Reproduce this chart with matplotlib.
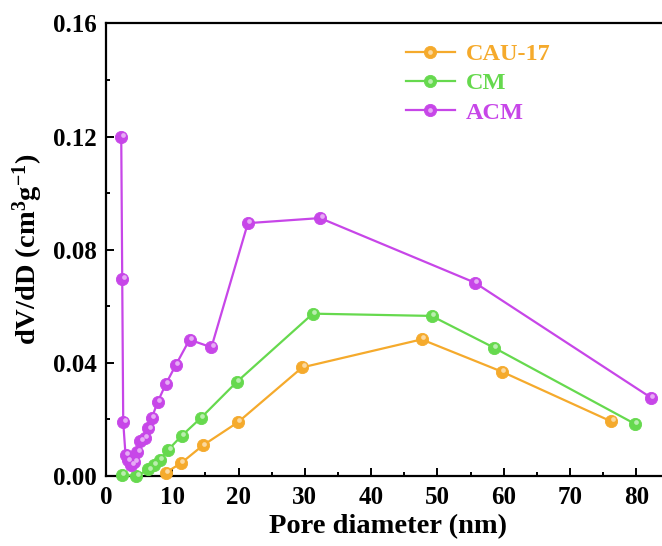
import matplotlib
matplotlib.use("Agg")
import matplotlib.pyplot as plt
import matplotlib.transforms as mtransforms
from matplotlib.ticker import MultipleLocator, FormatStrFormatter
from matplotlib.legend_handler import HandlerTuple
from matplotlib.colors import to_rgb

# Pore size distribution data (pore diameter in nm, dV/dD in cm^3 g^-1)
cau17_d = [9.0, 11.3, 14.6, 19.9, 29.6, 47.6, 59.7, 76.2]
cau17_v = [0.0012, 0.0045, 0.0108, 0.0190, 0.0384, 0.0483, 0.0369, 0.0193]

cm_d = [2.4, 4.6, 6.4, 7.2, 8.1, 9.4, 11.4, 14.3, 19.7, 31.2, 49.1, 58.5, 79.8]
cm_v = [0.0004, 0.0000, 0.0023, 0.0038, 0.0058, 0.0093, 0.0142, 0.0205,
        0.0332, 0.0574, 0.0566, 0.0454, 0.0184]

acm_d = [2.3, 2.45, 2.6, 2.95, 3.3, 3.8, 4.3, 4.7, 5.2, 5.9, 6.4, 6.9, 7.8,
         9.0, 10.5, 12.6, 15.9, 21.4, 32.3, 55.6, 82.2]
acm_v = [0.1200, 0.0695, 0.0190, 0.0074, 0.0055, 0.0040, 0.0050, 0.0086,
         0.0125, 0.0135, 0.0168, 0.0205, 0.0262, 0.0324, 0.0391, 0.0482,
         0.0455, 0.0894, 0.0912, 0.0684, 0.0277]

labels = ["CAU-17", "CM", "ACM"]
colors = ["#F5AA2C", "#66D94E", "#C746E8"]

x_ticks = [0, 10, 20, 30, 40, 50, 60, 70, 80]
y_ticks = [0.00, 0.04, 0.08, 0.12, 0.16]

plt.rcParams["font.family"] = ["Liberation Serif", "DejaVu Serif"]
plt.rcParams["font.weight"] = "bold"
plt.rcParams["mathtext.fontset"] = "custom"
plt.rcParams["mathtext.rm"] = "Liberation Serif:bold"
plt.rcParams["mathtext.bf"] = "Liberation Serif:bold"
plt.rcParams["mathtext.default"] = "bf"

fig = plt.figure(figsize=(6.62, 5.46), dpi=100)
ax = fig.add_axes([0.1601, 0.1282, 0.8513, 0.8288])


def lighten(c, f=0.55):
    r, g, b = to_rgb(c)
    return (r + (1 - r) * f, g + (1 - g) * f, b + (1 - b) * f)


shine = mtransforms.offset_copy(ax.transData, fig=fig, x=1.0, y=1.4, units="points")

handles = []
for d, v, lab, col in zip([cau17_d, cm_d, acm_d], [cau17_v, cm_v, acm_v], labels, colors):
    ln, = ax.plot(d, v, color=col, lw=1.6, marker="o", ms=8.8, mec=col, mew=0.6,
                  label=lab, clip_on=False, zorder=3)
    hl, = ax.plot(d, v, ls="none", marker="o", ms=3.4, mfc=lighten(col), mec="none",
                  transform=shine, clip_on=False, zorder=4)
    handles.append((ln, hl))

ax.set_xlim(0, 85)
ax.set_ylim(0, 0.16)
ax.set_xticks(x_ticks)
ax.set_yticks(y_ticks)
ax.xaxis.set_minor_locator(MultipleLocator(5))
ax.yaxis.set_minor_locator(MultipleLocator(0.02))
ax.yaxis.set_major_formatter(FormatStrFormatter("%.2f"))

ax.tick_params(which="both", direction="in", width=1.4, labelsize=18)
ax.tick_params(which="major", length=5.5)
ax.tick_params(which="minor", length=3)
ax.tick_params(axis="x", pad=7.5)
ax.tick_params(axis="y", pad=6.5)
for s in ax.spines.values():
    s.set_linewidth(1.6)

ax.set_xlabel("Pore diameter (nm)", fontsize=20.5, fontweight="bold")
ax.set_ylabel("dV/dD (cm$^{3}$g$^{-1}$)", fontsize=20.5, fontweight="bold")
ax.xaxis.set_label_coords(0.5, -0.085)
ax.yaxis.set_label_coords(-0.108, 0.5)

leg = ax.legend(handles, labels, handler_map={tuple: HandlerTuple(ndivide=1, pad=0)},
                loc="upper left", bbox_to_anchor=(406 / 662, 1 - 43 / 546),
                bbox_transform=fig.transFigure, frameon=False, fontsize=17.5,
                handlelength=2.0, handletextpad=0.45, labelspacing=0.3,
                borderpad=0, borderaxespad=0)
for txt, col in zip(leg.get_texts(), colors):
    txt.set_color(col)
    txt.set_fontweight("bold")

fig.savefig("out.png", dpi=100)
